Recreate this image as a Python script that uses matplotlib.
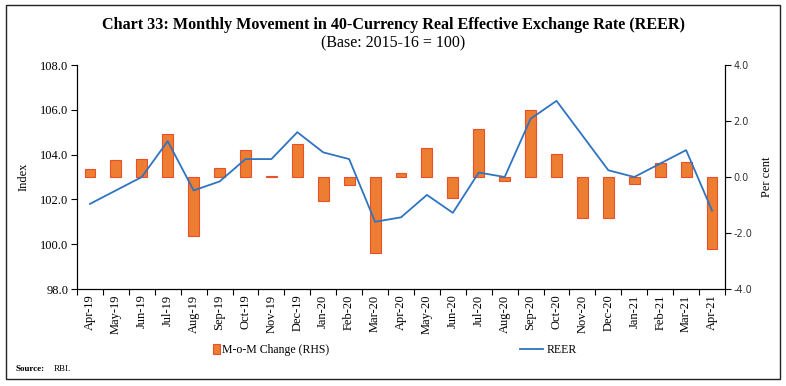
import matplotlib
matplotlib.use("Agg")
from matplotlib import pyplot as plt
from matplotlib.patches import Rectangle, Patch
from matplotlib.lines import Line2D
import numpy as np

months = ["Apr-19", "May-19", "Jun-19", "Jul-19", "Aug-19", "Sep-19", "Oct-19",
          "Nov-19", "Dec-19", "Jan-20", "Feb-20", "Mar-20", "Apr-20", "May-20",
          "Jun-20", "Jul-20", "Aug-20", "Sep-20", "Oct-20", "Nov-20", "Dec-20",
          "Jan-21", "Feb-21", "Mar-21", "Apr-21"]
reer = [101.8, 102.4, 103.0, 104.6, 102.4, 102.8, 103.8, 103.8, 105.0, 104.1,
        103.8, 101.0, 101.2, 102.2, 101.4, 103.2, 103.0, 105.6, 106.4, 104.85,
        103.3, 103.0, 103.6, 104.2, 101.5]
mom_change = [0.30, 0.59, 0.66, 1.52, -2.09, 0.33, 0.98, 0.02, 1.18, -0.87,
              -0.30, -2.73, 0.15, 1.03, -0.76, 1.72, -0.15, 2.39, 0.82, -1.47,
              -1.47, -0.26, 0.51, 0.54, -2.58]

serif = "Liberation Serif"
bar_fill = "#ED7D31"
bar_edge = "#E8502A"
line_col = "#2F74C0"

fig = plt.figure(figsize=(7.86, 3.86), dpi=100)
fig.patches.append(Rectangle((0.007, 0.018), 0.986, 0.968, transform=fig.transFigure,
                             fill=False, edgecolor="#222222", linewidth=1.0))

ax = fig.add_axes([77 / 786, 1 - 289 / 386, (725 - 77) / 786, (289 - 65) / 386])
ax2 = ax.twinx()
ax.set_zorder(ax2.get_zorder() + 1)
ax.patch.set_visible(False)

x = np.arange(len(months))
ax2.bar(x, mom_change, width=0.42, color=bar_fill, edgecolor=bar_edge, linewidth=0.8)
ax.plot(x, reer, color=line_col, linewidth=1.3)

ax.set_xlim(-0.5, len(months) - 0.5)
ax.set_ylim(98, 108)
ax2.set_ylim(-4, 4)
ax.set_yticks(np.arange(98, 108.1, 2))
ax.set_yticklabels([f"{v:.1f}" for v in np.arange(98, 108.1, 2)], fontfamily=serif, fontsize=9)
ax2.set_yticks(np.arange(-4, 4.1, 2))
ax2.set_yticklabels([f"{v:.1f}" for v in np.arange(-4, 4.1, 2)], fontsize=7, color="#333333")

ax.set_xticks(x)
ax.set_xticklabels(months, rotation=90, fontfamily=serif, fontsize=9)
ax.set_xticks(np.arange(-0.5, len(months), 1), minor=True)
ax.tick_params(axis="x", which="major", length=0, pad=4)
ax.tick_params(axis="x", which="minor", length=4, width=0.8)
ax.tick_params(axis="y", length=4, width=0.8, pad=2)
ax2.tick_params(axis="y", length=4, width=0.8, pad=2)

for a in (ax, ax2):
    a.spines["top"].set_visible(False)
    for s in ("left", "right", "bottom"):
        a.spines[s].set_linewidth(0.8)

ax.set_ylabel("Index", fontfamily=serif, fontsize=9, labelpad=8)
ax2.set_ylabel("Per cent", fontfamily=serif, fontsize=9, labelpad=6)

fig.text(0.5, 0.935, "Chart 33: Monthly Movement in 40-Currency Real Effective Exchange Rate (REER)",
         ha="center", va="center", fontfamily=serif, fontsize=11.6, fontweight="bold")
fig.text(0.5, 0.888, "(Base: 2015-16 = 100)", ha="center", va="center",
         fontfamily=serif, fontsize=11.5)

# two legends so each entry can have its own handle length
leg_bar = fig.legend([Patch(facecolor=bar_fill, edgecolor=bar_edge, linewidth=0.8)],
                     ["M-o-M Change (RHS)"], loc="center left",
                     bbox_to_anchor=(0.257, 0.094), frameon=False,
                     handlelength=0.6, handleheight=0.9, handletextpad=0.2,
                     prop={"family": serif, "size": 8.5})
fig.legend([Line2D([0], [0], color=line_col, linewidth=1.3)], ["REER"],
           loc="center left", bbox_to_anchor=(0.648, 0.094), frameon=False,
           handlelength=1.95, handletextpad=0.35,
           prop={"family": serif, "size": 8.5})

fig.text(0.02, 0.04, "Source:", fontfamily=serif, fontsize=6.5, fontweight="bold")
fig.text(0.068, 0.04, "RBI.", fontfamily=serif, fontsize=6.5)

fig.savefig("out.png", dpi=100)
